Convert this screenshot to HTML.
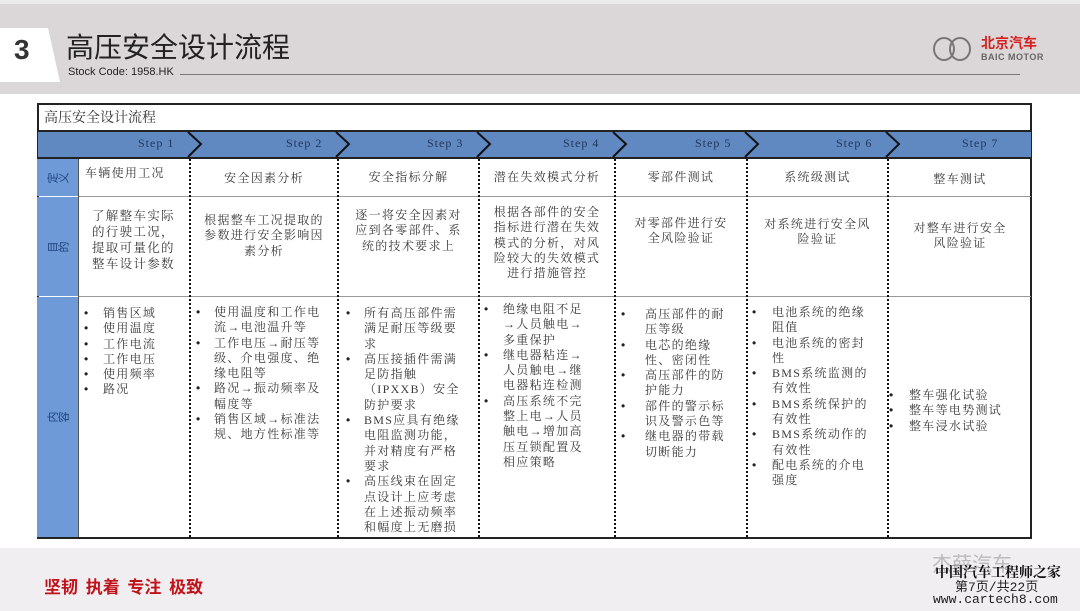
<!DOCTYPE html>
<html><head><meta charset="utf-8">
<style>
*{margin:0;padding:0;box-sizing:border-box}
body{width:1080px;height:611px;position:relative;background:#fff;overflow:hidden;font-family:"Liberation Serif","Noto Serif CJK SC",serif;color:#333}
.a{position:absolute}
.hdr{left:0;top:4px;width:1080px;height:90px;background:#dbd7d8}
.t{font-size:12px;line-height:15.3px;color:#3a3a3a;white-space:nowrap;letter-spacing:1.3px}
.c{text-align:center}
ul{list-style:none}
li{position:relative}
li b{font-weight:normal;font-family:"Liberation Sans",sans-serif;color:#222}
.vd{border-left:2px dotted #111;width:0}
.lab{left:37px;width:41px;background:#6e9bd8;color:#1e3f7a;font-size:11px;display:flex;align-items:center;justify-content:center;writing-mode:vertical-rl;font-family:"Noto Sans CJK SC",sans-serif}
.lab span{display:inline-block;transform:rotate(-90deg)}
.st{font-family:"Liberation Serif","Noto Serif CJK SC",serif;font-size:12px;letter-spacing:1px;color:#23375a;top:136px}
</style></head><body>
<div class="a" style="left:0;top:0;width:1080px;height:4px;background:#ecebec"></div>
<div class="a hdr"></div>
<svg class="a" style="left:0;top:28px" width="62" height="54"><polygon points="0,0 48,0 60,54 0,54" fill="#fff"/></svg>
<div class="a" style="left:14px;top:34px;font:bold 28px 'Liberation Sans',sans-serif;color:#333">3</div>
<div class="a" style="left:66px;top:28px;font-size:28px;font-family:'Noto Sans CJK SC',sans-serif;color:#222;line-height:36px">高压安全设计流程</div>
<div class="a" style="left:68px;top:66px;font:11px 'Liberation Sans',sans-serif;color:#222">Stock Code: 1958.HK</div>
<div class="a" style="left:180px;top:74px;width:840px;height:1px;background:#777"></div>
<svg class="a" style="left:932px;top:34px" width="42" height="32"><ellipse cx="12" cy="15" rx="10" ry="11" fill="none" stroke="#777" stroke-width="2"/><ellipse cx="28" cy="15" rx="10" ry="11" fill="none" stroke="#777" stroke-width="2"/></svg>
<div class="a" style="left:981px;top:35px;font:bold 14px 'Noto Sans CJK SC',sans-serif;color:#d42020;line-height:16px">北京汽车</div>
<div class="a" style="left:981px;top:52px;font:bold 9px 'Liberation Sans',sans-serif;color:#666;letter-spacing:0.5px">BAIC MOTOR</div>

<div class="a" style="left:37px;top:103px;width:995px;height:436px;border:2px solid #222"></div>
<div class="a" style="left:44px;top:107px;font-size:14px;color:#333">高压安全设计流程</div>
<div class="a" style="left:38px;top:130px;width:993px;height:2px;background:#222"></div>
<div class="a" style="left:38px;top:132px;width:993px;height:25px;background:#6089c2"></div>
<div class="a" style="left:38px;top:157px;width:993px;height:2px;background:#222"></div>
<svg class="a" style="left:0;top:130px" width="1080" height="30">
<g fill="none" stroke="#111" stroke-width="2">
<polyline points="188,2 201,14 188,27"/><polyline points="336,2 349,14 336,27"/><polyline points="477,2 490,14 477,27"/><polyline points="613,2 626,14 613,27"/><polyline points="745,2 758,14 745,27"/><polyline points="886,2 899,14 886,27"/>
</g></svg>
<div class="a st" style="left:138px">Step 1</div>
<div class="a st" style="left:286px">Step 2</div>
<div class="a st" style="left:427px">Step 3</div>
<div class="a st" style="left:563px">Step 4</div>
<div class="a st" style="left:695px">Step 5</div>
<div class="a st" style="left:836px">Step 6</div>
<div class="a st" style="left:962px">Step 7</div>

<div class="a lab" style="top:159px;height:37px"><span>定义</span></div>
<div class="a lab" style="top:197px;height:99px"><span>目的</span></div>
<div class="a lab" style="top:297px;height:240px"><span>内容</span></div>
<div class="a" style="left:78px;top:196px;width:953px;height:1px;background:#999"></div>
<div class="a" style="left:78px;top:296px;width:953px;height:1px;background:#999"></div>
<div class="a" style="left:78px;top:159px;width:1px;height:378px;background:#555"></div>

<div class="a vd" style="left:189px;top:159px;height:378px"></div>
<div class="a vd" style="left:337px;top:159px;height:378px"></div>
<div class="a vd" style="left:478px;top:159px;height:378px"></div>
<div class="a vd" style="left:614px;top:159px;height:378px"></div>
<div class="a vd" style="left:746px;top:159px;height:378px"></div>
<div class="a vd" style="left:887px;top:159px;height:378px"></div>

<div class="a t" style="left:85px;top:166px">车辆使用工况</div>
<div class="a t c" style="left:191px;width:146px;top:171px">安全因素分析</div>
<div class="a t c" style="left:339px;width:139px;top:170px">安全指标分解</div>
<div class="a t c" style="left:480px;width:134px;top:170px">潜在失效模式分析</div>
<div class="a t c" style="left:616px;width:130px;top:170px">零部件测试</div>
<div class="a t c" style="left:748px;width:139px;top:170px">系统级测试</div>
<div class="a t c" style="left:889px;width:142px;top:172px">整车测试</div>

<div class="a t" style="left:92px;top:208px;font-size:12.5px;line-height:16px">了解整车实际<br>的行驶工况，<br>提取可量化的<br>整车设计参数</div>
<div class="a t c" style="left:191px;top:213px;width:146px">根据整车工况提取的<br>参数进行安全影响因<br>素分析</div>
<div class="a t c" style="left:339px;top:208px;width:139px">逐一将安全因素对<br>应到各零部件、系<br>统的技术要求上</div>
<div class="a t c" style="left:480px;top:205px;width:134px">根据各部件的安全<br>指标进行潜在失效<br>模式的分析，对风<br>险较大的失效模式<br>进行措施管控</div>
<div class="a t c" style="left:616px;top:216px;width:130px">对零部件进行安<br>全风险验证</div>
<div class="a t c" style="left:748px;top:217px;width:139px">对系统进行安全风<br>险验证</div>
<div class="a t c" style="left:889px;top:221px;width:142px">对整车进行安全<br>风险验证</div>

<ul class="a t" style="left:103px;top:306px">
<li><b style="position:absolute;left:-19px">•</b>销售区域</li><li><b style="position:absolute;left:-19px">•</b>使用温度</li><li><b style="position:absolute;left:-19px">•</b>工作电流</li><li><b style="position:absolute;left:-19px">•</b>工作电压</li><li><b style="position:absolute;left:-19px">•</b>使用频率</li><li><b style="position:absolute;left:-19px">•</b>路况</li></ul>
<ul class="a t" style="left:214px;top:305px">
<li><b style="position:absolute;left:-18px">•</b>使用温度和工作电<br>流→电池温升等</li><li><b style="position:absolute;left:-18px">•</b>工作电压→耐压等<br>级、介电强度、绝<br>缘电阻等</li><li><b style="position:absolute;left:-18px">•</b>路况→振动频率及<br>幅度等</li><li><b style="position:absolute;left:-18px">•</b>销售区域→标准法<br>规、地方性标准等</li></ul>
<ul class="a t" style="left:364px;top:306px">
<li><b style="position:absolute;left:-18px">•</b>所有高压部件需<br>满足耐压等级要<br>求</li><li><b style="position:absolute;left:-18px">•</b>高压接插件需满<br>足防指触<br>（IPXXB）安全<br>防护要求</li><li><b style="position:absolute;left:-18px">•</b>BMS应具有绝缘<br>电阻监测功能，<br>并对精度有严格<br>要求</li><li><b style="position:absolute;left:-18px">•</b>高压线束在固定<br>点设计上应考虑<br>在上述振动频率<br>和幅度上无磨损</li></ul>
<ul class="a t" style="left:503px;top:302px">
<li><b style="position:absolute;left:-19px">•</b>绝缘电阻不足<br>→人员触电→<br>多重保护</li><li><b style="position:absolute;left:-19px">•</b>继电器粘连→<br>人员触电→继<br>电器粘连检测</li><li><b style="position:absolute;left:-19px">•</b>高压系统不完<br>整上电→人员<br>触电→增加高<br>压互锁配置及<br>相应策略</li></ul>
<ul class="a t" style="left:645px;top:307px">
<li><b style="position:absolute;left:-24px">•</b>高压部件的耐<br>压等级</li><li><b style="position:absolute;left:-24px">•</b>电芯的绝缘<br>性、密闭性</li><li><b style="position:absolute;left:-24px">•</b>高压部件的防<br>护能力</li><li><b style="position:absolute;left:-24px">•</b>部件的警示标<br>识及警示色等</li><li><b style="position:absolute;left:-24px">•</b>继电器的带载<br>切断能力</li></ul>
<ul class="a t" style="left:772px;top:305px">
<li><b style="position:absolute;left:-20px">•</b>电池系统的绝缘<br>阻值</li><li><b style="position:absolute;left:-20px">•</b>电池系统的密封<br>性</li><li><b style="position:absolute;left:-20px">•</b>BMS系统监测的<br>有效性</li><li><b style="position:absolute;left:-20px">•</b>BMS系统保护的<br>有效性</li><li><b style="position:absolute;left:-20px">•</b>BMS系统动作的<br>有效性</li><li><b style="position:absolute;left:-20px">•</b>配电系统的介电<br>强度</li></ul>
<ul class="a t" style="left:909px;top:388px">
<li><b style="position:absolute;left:-20px">•</b>整车强化试验</li><li><b style="position:absolute;left:-20px">•</b>整车等电势测试</li><li><b style="position:absolute;left:-20px">•</b>整车浸水试验</li></ul>

<div class="a" style="left:0;top:548px;width:1080px;height:63px;background:#f0eef0"></div>
<div class="a" style="left:44px;top:573px;font:bold 17px 'Noto Sans CJK SC',sans-serif;color:#c0121a">坚韧&nbsp;&nbsp;执着&nbsp;&nbsp;专注&nbsp;&nbsp;极致</div>
<div class="a" style="left:932px;top:548px;font:20px 'Noto Sans CJK SC',sans-serif;color:#bbb">杰薛汽车</div>
<div class="a" style="left:935px;top:562px;font:bold 14px 'Noto Serif CJK SC',serif;color:#111">中国汽车工程师之家</div>
<div class="a" style="left:955px;top:576px;font:13px 'Liberation Mono',monospace;color:#222">第7页/共22页</div>
<div class="a" style="left:933px;top:592px;font:13px 'Liberation Mono',monospace;color:#222">www.cartech8.com</div>
</body></html>
